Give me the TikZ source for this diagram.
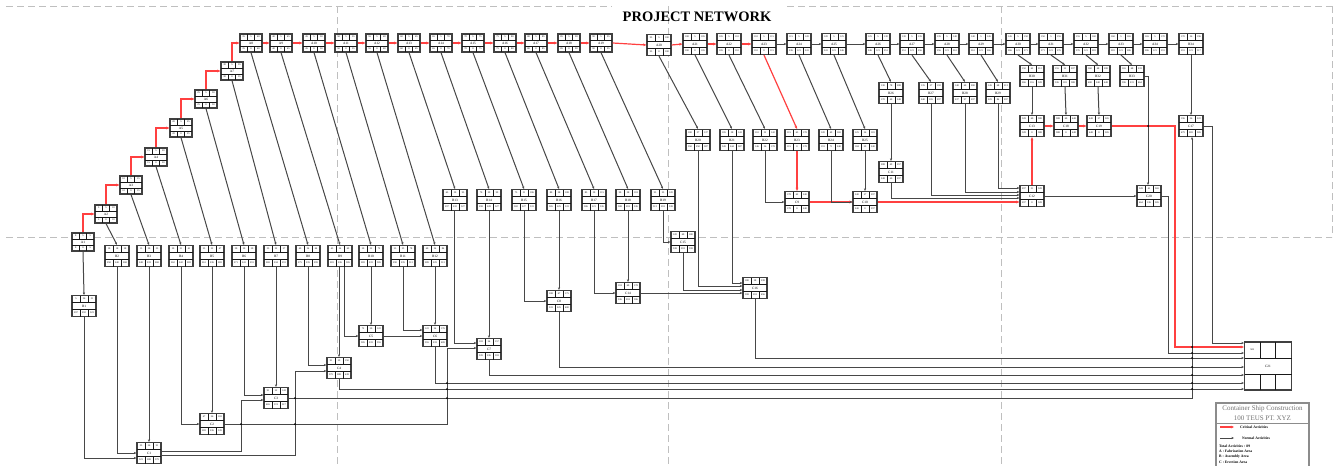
\documentclass[tikz,border=0pt]{standalone}
\usepackage{fontspec}
\setmainfont{Liberation Serif}
\usetikzlibrary{arrows.meta,calc}
\tikzset{
 pbox/.style={draw=black!75, line width=1.2pt, fill=white, inner sep=0pt, font=\fontsize{3.4}{4}\selectfont},
 cellln/.style={draw=black!90, line width=0.75pt},
 ctxt/.style={inner sep=0pt, font=\fontsize{2.5}{3}\selectfont},
 norm/.style={draw=black!72, line width=1pt, -{Stealth[length=2.6pt,width=2.2pt]}},
 crit/.style={draw=red!75!white, line width=1.2pt, -{Stealth[length=3.2pt,width=2.8pt]}},
 gridln/.style={draw=black!25, line width=0.9pt, dash pattern=on 7pt off 4pt},
 jdot/.style={fill=black},
 legt/.style={inner sep=0pt, text=black!55, font=\fontsize{7}{8}\selectfont},
 legs/.style={inner sep=0pt, font=\fontsize{3.7}{4}\selectfont\bfseries},
 ttl/.style={inner sep=0pt, font=\fontsize{14.5}{16}\selectfont\bfseries},
}
\newcommand\pnbody[8]{%
 \begin{scope}[shift={(#2)}]
 \node[pbox,minimum width=\bxw pt,minimum height=\bxh pt] (#1) at (0,0) {#1};
 \draw[cellln] ({-\bxw/2},{-\bxh/6}) -- ({\bxw/2},{-\bxh/6});
 \draw[cellln] ({-\bxw/2},{\bxh/6}) -- ({\bxw/2},{\bxh/6});
 \foreach \s in {-1,1} {
   \draw[cellln] ({\s*\bxw/6},{-\bxh/2}) -- ({\s*\bxw/6},{-\bxh/6});
   \draw[cellln] ({\s*\bxw/6},{\bxh/2}) -- ({\s*\bxw/6},{\bxh/6});
 }
 \node[ctxt] at ({-\bxw/3},{-\bxh/3}) {#3};
 \node[ctxt] at (0,{-\bxh/3}) {#4};
 \node[ctxt] at ({\bxw/3},{-\bxh/3}) {#5};
 \node[ctxt] at ({-\bxw/3},{\bxh/3}) {#6};
 \node[ctxt] at (0,{\bxh/3}) {#7};
 \node[ctxt] at ({\bxw/3},{\bxh/3}) {#8};
 \end{scope}}
\newcommand\NA{\def\bxw{22}\def\bxh{18}\pnbody}
\newcommand\NB{\def\bxw{24}\def\bxh{21}\pnbody}
\begin{document}
\begin{tikzpicture}[x=1pt,y=-1pt]
\useasboundingbox (0,0) rectangle (1334,466);
% grid
\draw[gridln] (6,6) -- (612,6);
\draw[gridln] (787,6) -- (1332,6);
\draw[gridln] (6,237) -- (1332,237);
\draw[gridln] (337,6) -- (337,466);
\draw[gridln] (668,6) -- (668,466);
\draw[gridln] (1001,6) -- (1001,466);
\draw[gridln] (1332,6) -- (1332,237);
\node[ttl] (title) at (697,17) {PROJECT NETWORK};
% ---------- A nodes
\NA{A1}{83,242}{0}{5}{5}{0}{0}{5}
\NA{A2}{106,214}{5}{5}{10}{5}{0}{10}
\NA{A3}{131,185}{10}{5}{15}{10}{0}{15}
\NA{A4}{156,157}{15}{5}{20}{15}{0}{20}
\NA{A5}{181,128}{20}{5}{25}{20}{0}{25}
\NA{A6}{206,99}{25}{5}{30}{25}{0}{30}
\NA{A7}{232,71}{30}{5}{35}{30}{0}{35}
\NA{A8}{251,43}{35}{5}{40}{35}{0}{40}
\NA{A9}{281,43}{40}{5}{45}{40}{0}{45}
\NA{A10}{314,43}{45}{5}{50}{45}{0}{50}
\NA{A11}{346,43}{50}{5}{55}{50}{0}{55}
\NA{A12}{377,43}{55}{5}{60}{55}{0}{60}
\NA{A13}{409,43}{60}{5}{65}{60}{0}{65}
\NA{A14}{441,43}{65}{5}{70}{65}{0}{70}
\NA{A15}{473,43}{70}{5}{75}{70}{0}{75}
\NA{A16}{505,43}{75}{5}{80}{75}{0}{80}
\NA{A17}{536,43}{80}{5}{85}{80}{0}{85}
\NA{A18}{569,43}{85}{5}{90}{85}{0}{90}
\NA{A19}{601,43}{90}{5}{95}{90}{0}{95}
\NB{A20}{659,45}{95}{5}{100}{95}{0}{100}
\NB{A21}{695,44}{100}{5}{105}{100}{0}{105}
\NB{A22}{729,44}{105}{5}{110}{105}{0}{110}
\NB{A23}{764,44}{110}{5}{115}{110}{0}{115}
\NB{A24}{799,44}{115}{5}{120}{236}{121}{241}
\NB{A25}{834,44}{120}{5}{125}{241}{121}{246}
\NB{A26}{878,44}{125}{5}{130}{246}{121}{251}
\NB{A27}{912,44}{130}{5}{135}{251}{121}{256}
\NB{A28}{947,44}{135}{5}{140}{256}{121}{261}
\NB{A29}{981,44}{140}{5}{145}{261}{121}{266}
\NB{A30}{1018,44}{145}{5}{150}{266}{121}{271}
\NB{A31}{1051,44}{150}{5}{155}{271}{121}{276}
\NB{A32}{1086,44}{155}{5}{160}{276}{121}{281}
\NB{A33}{1121,44}{160}{5}{165}{281}{121}{286}
\NB{A34}{1155,44}{165}{5}{170}{286}{121}{291}
\NB{B34}{1191,44}{170}{26}{196}{291}{121}{317}
% ---------- B nodes
\NB{B1}{84,306}{5}{26}{31}{297}{292}{323}
\NB{B2}{117,256}{10}{18}{28}{250}{240}{268}
\NB{B3}{149,256}{15}{20}{35}{248}{233}{268}
\NB{B4}{181,256}{20}{21}{41}{262}{242}{283}
\NB{B5}{212,256}{25}{22}{47}{261}{236}{283}
\NB{B6}{244,256}{30}{20}{50}{271}{241}{291}
\NB{B7}{276,256}{35}{22}{57}{269}{234}{291}
\NB{B8}{308,256}{40}{24}{64}{275}{235}{299}
\NB{B9}{340,256}{45}{24}{69}{281}{236}{305}
\NB{B10}{371,256}{50}{22}{72}{283}{233}{305}
\NB{B11}{403,256}{55}{23}{78}{290}{235}{313}
\NB{B12}{435,256}{60}{24}{84}{289}{229}{313}
\NB{B13}{455,200}{65}{30}{95}{297}{232}{327}
\NB{B14}{489,200}{70}{29}{99}{298}{228}{327}
\NB{B15}{524,200}{75}{31}{106}{302}{227}{333}
\NB{B16}{559,200}{80}{28}{108}{305}{225}{333}
\NB{B17}{594,200}{85}{30}{115}{306}{221}{336}
\NB{B18}{628,200}{90}{28}{118}{308}{218}{336}
\NB{B19}{663,200}{95}{25}{120}{313}{218}{338}
\NB{B20}{698,140}{100}{37}{137}{350}{250}{387}
\NB{B21}{732,140}{105}{38}{143}{349}{244}{387}
\NB{B22}{765,140}{110}{32}{142}{146}{36}{178}
\NB{B23}{797,140}{115}{63}{178}{115}{0}{178}
\NB{B24}{831,140}{120}{49}{169}{191}{71}{240}
\NB{B25}{865,140}{125}{56}{181}{184}{59}{240}
\NB{B26}{891,93}{130}{78}{208}{170}{40}{248}
\NB{B27}{931,93}{135}{57}{192}{240}{105}{297}
\NB{B28}{965,93}{140}{60}{200}{237}{97}{297}
\NB{B29}{998,93}{145}{68}{213}{229}{84}{297}
\NB{B30}{1032,76}{150}{62}{212}{266}{116}{328}
\NB{B31}{1065,76}{155}{52}{207}{336}{181}{388}
\NB{B32}{1098,76}{160}{48}{208}{400}{240}{448}
\NB{B33}{1132,76}{165}{68}{233}{396}{231}{464}
% ---------- C nodes
\NB{C1}{149,453}{35}{56}{91}{323}{288}{379}
\NB{C2}{212,424}{47}{56}{103}{283}{236}{339}
\NB{C3}{276,398}{91}{52}{143}{465}{374}{517}
\NB{C4}{339,368}{91}{59}{150}{379}{288}{438}
\NB{C5}{371,336}{72}{50}{122}{305}{233}{355}
\NB{C6}{435,336}{122}{54}{176}{355}{233}{409}
\NB{C7}{489,349}{103}{54}{157}{339}{236}{393}
\NB{C8}{559,301}{108}{67}{175}{333}{225}{400}
\NB{C14}{628,293}{118}{60}{178}{336}{218}{396}
\NB{C15}{683,242}{120}{60}{180}{338}{218}{398}
\NB{C16}{755,288}{180}{58}{238}{398}{218}{456}
\NB{C9}{797,202}{178}{62}{240}{178}{0}{240}
\NB{C10}{865,202}{240}{57}{297}{240}{0}{297}
\NB{C11}{891,172}{208}{49}{257}{248}{40}{297}
\NB{C12}{1032,196}{297}{31}{328}{297}{0}{328}
\NB{C13}{1032,126}{328}{60}{388}{328}{0}{388}
\NB{C18}{1066,126}{388}{60}{448}{388}{0}{448}
\NB{C19}{1099,126}{448}{57}{505}{448}{0}{505}
\NB{C17}{1191,126}{196}{26}{222}{479}{283}{505}
\NB{C20}{1149,196}{328}{41}{369}{464}{136}{505}
\def\bxw{47}\def\bxh{48}\pnbody{C21}{1268,366}{505}{}{}{}{}{}
% ---------- bend points
\coordinate (j13) at (241,400);
\coordinate (j14) at (295,371);
\coordinate (j27) at (447,348);
\coordinate (j19) at (1175,347);
\coordinate (j20) at (1168,353);
\coordinate (j17) at (1212,343);
% ---------- critical path
\foreach \i [evaluate=\i as \j using int(\i+1)] in {1,...,7}
  \draw[crit] (A\i.north) |- (A\j.west);
\foreach \i [evaluate=\i as \j using int(\i+1)] in {8,...,22}
  \draw[crit] (A\i.east) -- (A\j.west);
\draw[crit] (A23.south) -- (B23.north);
\draw[crit] (B23.south) -- (C9.north);
\draw[crit] (C9.east) -- (C10.west);
\draw[crit] (C10.east) -- ([yshift=-6pt]C12.west);
\draw[crit] (C12.north) -- (C13.south);
\draw[crit] (C13.east) -- (C18.west);
\draw[crit] (C18.east) -- (C19.west);
\draw[crit] (C19.east) -| (j19) -- ([yshift=19pt]C21.west);
% ---------- normal activities
\foreach \i [evaluate=\i as \j using int(\i+1)] in {23,...,33}
  \draw[norm] (A\i.east) -- (A\j.west);
\draw[norm] (A34.east) -- (B34.west);
\draw[norm] (A1.south) -- (B1.north);
\foreach \k in {2,...,22} \draw[norm] (A\k.south) -- (B\k.north);
\foreach \k in {24,...,33} \draw[norm] (A\k.south) -- (B\k.north);
\draw[norm] (B1.south) |- ([yshift=-5pt]C1.west);
\draw[norm] (B2.south) |- (C1.west);
\draw[norm] (B3.south) -- (C1.north);
\draw[norm] (B4.south) |- (C2.west);
\draw[norm] (B5.south) -- (C2.north);
\draw[norm] (B6.south) |- ([yshift=3pt]C3.west);
\draw[norm] (B7.south) -- (C3.north);
\draw[norm] (B8.south) |- ([yshift=3pt]C4.west);
\draw[norm] ([xshift=-1pt]B9.south) -- (C4.north);
\draw[norm] ([xshift=4pt]B9.south) |- (C5.west);
\draw[norm] (B10.south) -- (C5.north);
\draw[norm] (B11.south) |- ([yshift=6pt]C6.west);
\draw[norm] (B12.south) -- (C6.north);
\draw[norm] (C5.east) -- (C6.west);
\draw[norm] ([yshift=2pt]C1.east) -| (j13) -- ([yshift=-2pt]C3.west);
\draw[norm] ([yshift=-2pt]C1.east) -| (j14) -- ([yshift=-3pt]C4.west);
\draw[norm] (C2.east) -| (j27) -- ([yshift=1pt]C7.west);
\draw[norm] ([xshift=-1pt]B13.south) |- ([yshift=6pt]C7.west);
\draw[norm] (B14.south) -- (C7.north);
\draw[norm] (B15.south) |- (C8.west);
\draw[norm] (B16.south) -- (C8.north);
\draw[norm] (B17.south) |- (C14.west);
\draw[norm] (B18.south) -- (C14.north);
\draw[norm] (B19.south) |- (C15.west);
\draw[norm] (C14.east) -- ([yshift=-5pt]C16.west);
\draw[norm] (C15.south) |- ([yshift=-2pt]C16.west);
\draw[norm] (B20.south) |- ([yshift=2pt]C16.west);
\draw[norm] (B21.south) |- ([yshift=5pt]C16.west);
\draw[norm] (B22.south) |- (C9.west);
\draw[norm] (B24.south) |- (C10.west);
\draw[norm] (B25.south) -- (C10.north);
\draw[norm] (B26.south) -- (C11.north);
\draw[norm] (C11.south) |- ([yshift=-2pt]C12.west);
\draw[norm] (B27.south) |- ([yshift=1pt]C12.west);
\draw[norm] (B28.south) |- ([yshift=4pt]C12.west);
\draw[norm] (B29.south) |- ([yshift=8pt]C12.west);
\draw[norm] (C12.east) -- (C20.west);
\draw[norm] (B30.south) -- (C13.north);
\draw[norm] (B31.south) -- (C18.north);
\draw[norm] (B32.south) -- (C19.north);
\draw[norm] (B33.east) -| ([xshift=-1pt]C20.north);
\draw[norm] (B34.south) -- (C17.north);
\draw[norm] (C3.east) -| ([xshift=1pt]C17.south);
\draw[norm] (C17.east) -| (j17) -- ([yshift=23pt]C21.west);
\draw[norm] (C20.east) -| (j20) -- ([yshift=13pt]C21.west);
\draw[norm] (C16.south) |- ([yshift=8pt]C21.west);
\draw[norm] (C8.south) |- ([yshift=-1pt]C21.west);
\draw[norm] (C7.south) |- ([yshift=-9pt]C21.west);
\draw[norm] (C6.south) |- ([yshift=-17pt]C21.west);
\draw[norm] (C4.south) |- ([yshift=-23pt]C21.west);
% crossing marks
\foreach \p in {(241,424),(295,424),(295,398),(447,383),(447,389),(447,398),(1148,126),
  (1192,347),(1192,353),(1192,358),(1192,367),(1192,375),(1192,383),(1192,389)}
  \fill[jdot] \p circle (1pt);
% ---------- legend
\draw[draw=black!45, line width=1.2pt] (1216,403) rectangle (1309,472);
\draw[draw=black!45, line width=0.9pt] (1216,423) -- (1309,423);
\node[legt] (lgA) at (1262.5,408.5) {Container Ship Construction};
\node[legt] (lgB) at (1262.5,418) {100 TEUS PT. XYZ};
\coordinate (lr1) at (1220,427); \coordinate (lr2) at (1234,427);
\draw[crit] (lr1) -- (lr2);
\node[legs, anchor=west] (lgC) at (1240,427) {Critical Activities};
\coordinate (ln1) at (1220,438); \coordinate (ln2) at (1234,438);
\draw[norm] (ln1) -- (ln2);
\node[legs, anchor=west] (lgD) at (1242,438) {Normal Activities};
\node[legs, anchor=west] (lgE) at (1219,446) {Total Activities : 89};
\node[legs, anchor=west] (lgF) at (1219,451.5) {A : Fabrication Area};
\node[legs, anchor=west] (lgG) at (1219,457) {B : Assembly Area};
\node[legs, anchor=west] (lgH) at (1219,462.5) {C : Erection Area};
\end{tikzpicture}
\end{document}
